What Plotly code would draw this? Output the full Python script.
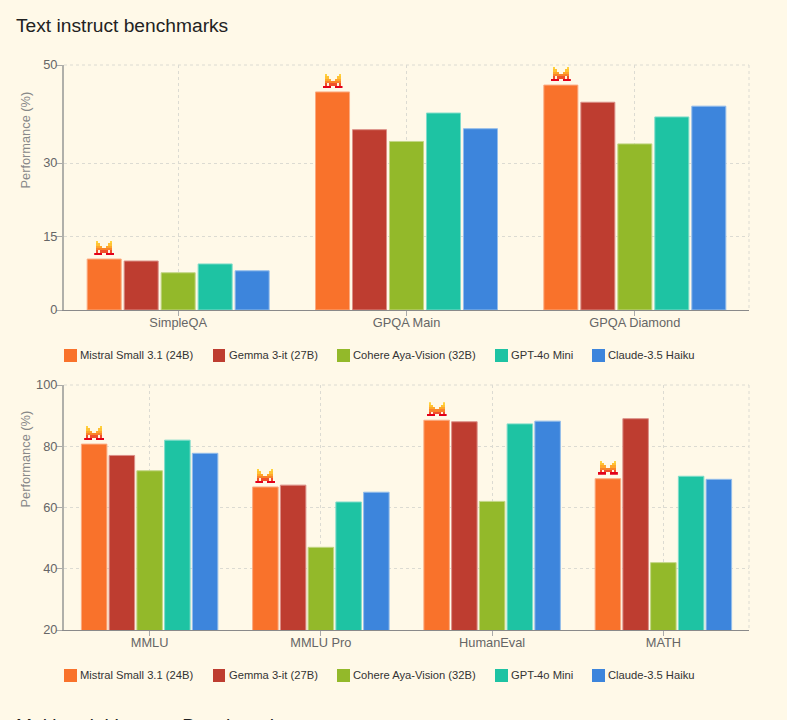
import base64
import plotly.graph_objects as go

models = ["Mistral Small 3.1 (24B)", "Gemma 3-it (27B)", "Cohere Aya-Vision (32B)", "GPT-4o Mini", "Claude-3.5 Haiku"]
colors = ["#F9722B", "#BE3D30", "#93B92A", "#1EC3A3", "#3D85DC"]
borders = ["#FBAA80", "#DB8F87", "#C2D684", "#80DDCA", "#93BDEB"]

cats_top = ["SimpleQA", "GPQA Main", "GPQA Diamond"]
mistral_top = [10.4, 44.5, 45.9]
gemma_top = [10.0, 36.8, 42.4]
cohere_top = [7.6, 34.4, 33.9]
gpt_top = [9.4, 40.2, 39.4]
claude_top = [8.0, 37.0, 41.6]

cats_bot = ["MMLU", "MMLU Pro", "HumanEval", "MATH"]
mistral_bot = [80.7, 66.7, 88.5, 69.4]
gemma_bot = [77.0, 67.3, 88.0, 89.0]
cohere_bot = [72.0, 47.0, 62.0, 42.0]
gpt_bot = [82.0, 61.8, 87.3, 70.2]
claude_bot = [77.7, 65.0, 88.2, 69.2]

ticks_top = [0, 15, 30, 50]
ticks_bot = [20, 40, 60, 80, 100]

W, H = 787, 720
BG = "#FFF9E8"
FONT = "Liberation Sans, Arial, sans-serif"
L, R = 64, 749
T1, B1 = 65, 310
T2, B2 = 385, 630
GRID = "#DCDBD2"
BARGAP = 0.19

def px(x): return x / W
def py(y): return 1 - y / H

rows = [
    ".X......X.",
    ".XX....XX.",
    ".XXX..XXX.",
    ".XXXXXXXX.",
    ".XWXXXXWX.",
    "RRRR..RRRR",
]
row_cols = ["#FFD23C", "#FFC233", "#FFA52A", "#F9822B", "#F0502A", "#E3001B"]
rects = ""
for j, r in enumerate(rows):
    for i, c in enumerate(r):
        if c == "X" or c == "R":
            rects += f'<rect x="{i*2}" y="{j*2}" width="2" height="2" fill="{row_cols[j]}"/>'
        elif c == "W":
            rects += f'<rect x="{i*2}" y="{j*2}" width="2" height="2" fill="#FFF3E0"/>'
svg = f'<svg xmlns="http://www.w3.org/2000/svg" width="20" height="12" viewBox="0 0 20 12" preserveAspectRatio="none" shape-rendering="crispEdges">{rects}</svg>'
logo = "data:image/svg+xml;base64," + base64.b64encode(svg.encode()).decode()

fig = go.Figure()

def add_group(cats, series, xa, ya):
    for name, vals, c, b in zip(models, series, colors, borders):
        fig.add_trace(go.Bar(x=cats, y=vals, name=name, xaxis=xa, yaxis=ya, showlegend=False,
                             marker=dict(color=c, line=dict(color=b, width=1))))

add_group(cats_top, [mistral_top, gemma_top, cohere_top, gpt_top, claude_top], "x", "y")
add_group(cats_bot, [mistral_bot, gemma_bot, cohere_bot, gpt_bot, claude_bot], "x2", "y2")

grid = dict(showgrid=True, gridcolor=GRID, griddash="3px,3px", gridwidth=1)
xcommon = dict(type="category", showline=True, linecolor="#8A8A8A", linewidth=1, ticks="outside",
               ticklen=5, tickcolor="#AAAAAA", ticklabelstandoff=-4,
               tickfont=dict(size=12.8, color="#666666", family=FONT),
               domain=[px(L), px(R)], zeroline=False, **grid)
ycommon = dict(showline=True, linecolor="#B0B0AA", linewidth=2, ticks="outside", ticklen=6,
               tickcolor="#AAAAAA", ticklabelstandoff=-4,
               tickfont=dict(size=12.8, color="#666666", family=FONT),
               tickmode="array", zeroline=False, **grid)

images = []
def add_logos(cats, vals, xa, ya, y0, y1, top, bottom):
    unit_x = (R - L) / len(cats)
    unit_y = (bottom - top) / (y1 - y0)
    offset = (1 - BARGAP) / len(models) * 2
    for i, v in enumerate(vals):
        images.append(dict(source=logo, xref=xa, yref=ya, x=i - offset, y=v + 4 / unit_y,
                           sizex=20 / unit_x, sizey=14 / unit_y, xanchor="center", yanchor="bottom",
                           sizing="stretch", layer="above"))

add_logos(cats_top, mistral_top, "x", "y", 0, 50, T1, B1)
add_logos(cats_bot, mistral_bot, "x2", "y2", 20, 100, T2, B2)

annotations = []
shapes = []

def text(x, y, s, size, color, anchor="left", angle=0):
    annotations.append(dict(xref="paper", yref="paper", x=px(x), y=py(y), text=s, showarrow=False,
                            xanchor=anchor, yanchor="middle", textangle=angle,
                            font=dict(size=size, color=color, family=FONT)))

text(14, 26, "Text instruct benchmarks", 19.2, "#222222")
text(14, 725.5, "Multimodal Instruct Benchmarks", 19.2, "#222222")
text(25.5, 140, "Performance (%)", 12.8, "#888888", "center", -90)
text(25.5, 459, "Performance (%)", 12.8, "#888888", "center", -90)

swatch_x = [64, 213, 337, 495, 592]
swatch_w = [13, 12, 13, 13, 13]
label_x = [78, 227, 351, 509, 606]
for cy in (355.5, 675.5):
    for name, c, sx, sw, lx in zip(models, colors, swatch_x, swatch_w, label_x):
        shapes.append(dict(type="rect", xref="paper", yref="paper", x0=px(sx), x1=px(sx + sw),
                           y0=py(cy - 6.5), y1=py(cy + 6.5), fillcolor=c, line=dict(width=0)))
        text(lx, cy - 0.5, name, 11.2, "#333333")

for top, bottom in ((T1, B1), (T2, B2)):
    edge = dict(type="line", xref="paper", yref="paper", layer="below",
                line=dict(color=GRID, width=1, dash="3px,3px"))
    shapes.append(dict(x0=px(L), x1=px(R), y0=py(top), y1=py(top), **edge))
    shapes.append(dict(x0=px(R), x1=px(R), y0=py(top), y1=py(bottom), **edge))

fig.update_layout(
    width=W, height=H, autosize=False,
    margin=dict(l=0, r=0, t=0, b=0, autoexpand=False),
    paper_bgcolor=BG, plot_bgcolor=BG,
    barmode="group", bargap=BARGAP, bargroupgap=0.08,
    showlegend=False,
    font=dict(family=FONT),
    xaxis=dict(anchor="y", **xcommon),
    yaxis=dict(anchor="x", domain=[py(B1), py(T1)], range=[0, 50], tickvals=ticks_top, **ycommon),
    xaxis2=dict(anchor="y2", **xcommon),
    yaxis2=dict(anchor="x2", domain=[py(B2), py(T2)], range=[20, 100], tickvals=ticks_bot, **ycommon),
    images=images, annotations=annotations, shapes=shapes,
)

fig.write_html("out.html", config={"displayModeBar": False},
               post_script="document.body.style.margin='0';document.body.style.overflow='hidden';document.body.style.background='%s';" % BG)
